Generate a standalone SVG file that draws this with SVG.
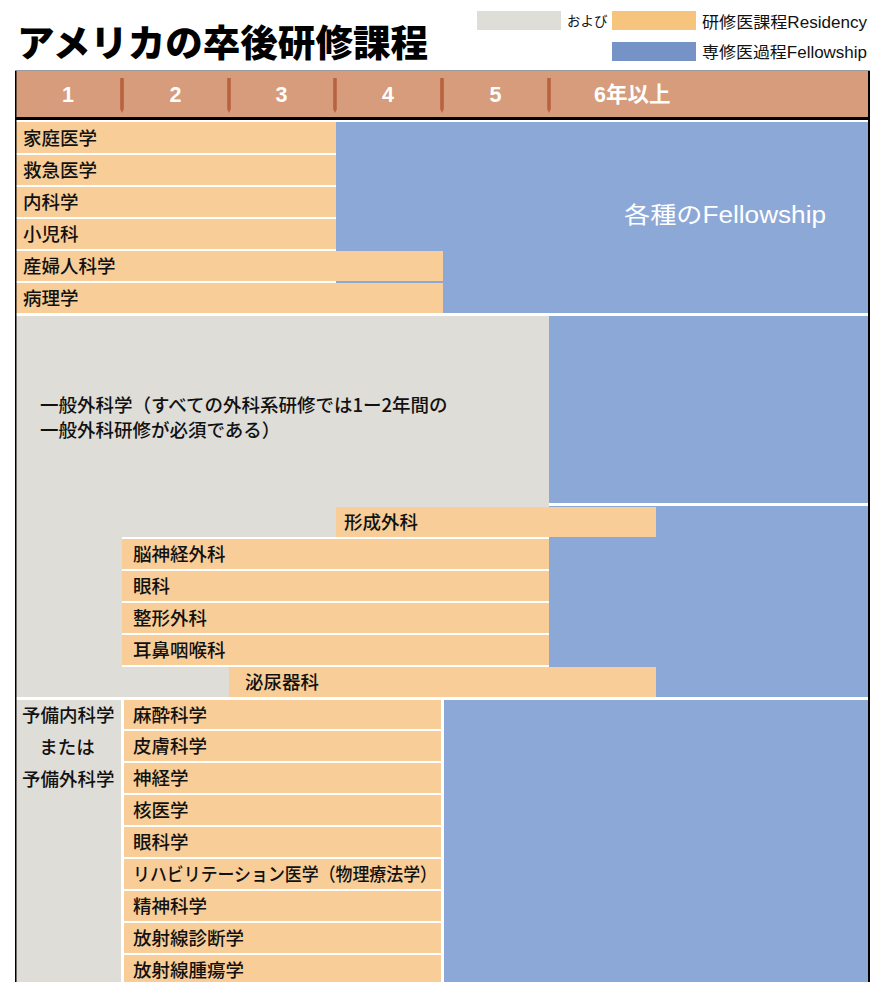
<svg xmlns="http://www.w3.org/2000/svg" width="890" height="982" viewBox="0 0 890 982">
<style>
.or{fill:#F8CD97}
.bl{fill:#8CA8D6}
.gr{fill:#DEDDD8}
.wh{fill:#FFFFFF}
.tick{fill:#B8623F}
.lbl{font-family:"Noto Sans CJK JP","Liberation Sans",sans-serif;font-size:18.5px;font-weight:500;fill:#111}
.hd{font-family:"Liberation Sans","Noto Sans CJK JP",sans-serif;font-size:21.5px;font-weight:bold;fill:#fff;text-anchor:middle}
.lg{font-family:"Liberation Sans","Noto Sans CJK JP",sans-serif;fill:#111}
</style>
<rect x="0" y="0" width="890" height="982" fill="#fff"/>

<g id="title">
<text x="17" y="57" font-family="'Noto Sans CJK JP',sans-serif" font-size="37" font-weight="900" fill="#000" textLength="411" lengthAdjust="spacingAndGlyphs">アメリカの卒後研修課程</text>
</g>

<g id="legend">
<rect x="477" y="11" width="84" height="19" fill="#DEDDD8"/>
<text class="lg" x="567" y="26" font-size="13.5">および</text>
<rect x="612" y="11" width="84" height="19" fill="#F7C47E"/>
<text class="lg" x="702" y="28" font-size="16" textLength="165" lengthAdjust="spacingAndGlyphs">研修医課程Residency</text>
<rect x="612" y="42" width="84" height="19" fill="#7593C7"/>
<text class="lg" x="702" y="58" font-size="16" textLength="165" lengthAdjust="spacingAndGlyphs">専修医過程Fellowship</text>
</g>

<g id="header">
<rect x="15" y="70" width="855" height="1.2" fill="#9a9a9a"/>
<rect x="16" y="71" width="852" height="46" fill="#D69C7B"/>
<rect x="16" y="117" width="852" height="3" fill="#000"/>
<path class="tick" d="M120.2,78h3.6v31l-1.8,4l-1.8,-4z"/>
<path class="tick" d="M227.2,78h3.6v31l-1.8,4l-1.8,-4z"/>
<path class="tick" d="M333.2,78h3.6v31l-1.8,4l-1.8,-4z"/>
<path class="tick" d="M440.2,78h3.6v31l-1.8,4l-1.8,-4z"/>
<path class="tick" d="M547.2,78h3.6v31l-1.8,4l-1.8,-4z"/>
<text class="hd" x="68" y="102">1</text>
<text class="hd" x="175.5" y="102">2</text>
<text class="hd" x="281.5" y="102">3</text>
<text class="hd" x="388" y="102">4</text>
<text class="hd" x="495.5" y="102">5</text>
<text class="hd" x="594" y="102" style="text-anchor:start">6年以上</text>
</g>

<g id="section-primary">
<rect class="bl" x="336" y="122" width="532" height="191"/>
<text x="624" y="223" font-family="'Liberation Sans','Noto Sans CJK JP',sans-serif" font-size="23" fill="#fff" textLength="202" lengthAdjust="spacingAndGlyphs">各種のFellowship</text>
<g id="row-family"><rect class="or" x="16" y="122" width="320" height="31"/><text class="lbl" x="23" y="144.5">家庭医学</text></g>
<g id="row-emergency"><rect class="or" x="16" y="155" width="320" height="30"/><text class="lbl" x="23" y="177">救急医学</text></g>
<g id="row-internal"><rect class="or" x="16" y="187" width="320" height="30"/><text class="lbl" x="23" y="209">内科学</text></g>
<g id="row-pediatrics"><rect class="or" x="16" y="219" width="320" height="30"/><text class="lbl" x="23" y="241">小児科</text></g>
<g id="row-obgyn"><rect class="or" x="16" y="251" width="427" height="30"/><text class="lbl" x="23" y="273">産婦人科学</text></g>
<g id="row-pathology"><rect class="or" x="16" y="283" width="427" height="30"/><text class="lbl" x="23" y="305">病理学</text></g>
</g>

<g id="section-surgery">
<rect class="gr" x="16" y="316" width="533" height="381"/>
<rect class="bl" x="549" y="316" width="319" height="187"/>
<rect class="bl" x="549" y="506" width="319" height="191"/>
<g id="general-surgery">
<text class="lbl" x="40" y="412" font-size="18">一般外科学（すべての外科系研修では1ー2年間の</text>
<text class="lbl" x="40" y="437" font-size="18">一般外科研修が必須である）</text>
</g>
<g id="row-plastic"><rect class="or" x="336" y="507" width="320" height="30"/><text class="lbl" x="344" y="529">形成外科</text></g>
<rect class="wh" x="122" y="537" width="427" height="2"/>
<g id="row-neuro"><rect class="or" x="122" y="539" width="427" height="30"/><text class="lbl" x="133" y="561">脳神経外科</text></g>
<rect class="wh" x="122" y="569" width="427" height="2"/>
<g id="row-ophth"><rect class="or" x="122" y="571" width="427" height="30"/><text class="lbl" x="133" y="593">眼科</text></g>
<rect class="wh" x="122" y="601" width="427" height="2"/>
<g id="row-ortho"><rect class="or" x="122" y="603" width="427" height="30"/><text class="lbl" x="133" y="625">整形外科</text></g>
<rect class="wh" x="122" y="633" width="427" height="2"/>
<g id="row-ent"><rect class="or" x="122" y="635" width="427" height="30"/><text class="lbl" x="133" y="657">耳鼻咽喉科</text></g>
<rect class="wh" x="122" y="665" width="427" height="2"/>
<g id="row-urology"><rect class="or" x="229" y="667" width="427" height="30"/><text class="lbl" x="245" y="689">泌尿器科</text></g>
</g>

<g id="section-prelim">
<rect class="gr" x="16" y="700" width="105" height="282"/>
<rect class="bl" x="444" y="700" width="424" height="282"/>
<g id="prelim-label">
<text class="lbl" x="22" y="722">予備内科学</text>
<text class="lbl" x="67" y="754" text-anchor="middle">または</text>
<text class="lbl" x="22" y="786">予備外科学</text>
</g>
<g id="row-anesth"><rect class="or" x="124" y="700" width="317" height="29"/><text class="lbl" x="133" y="722">麻酔科学</text></g>
<g id="row-derm"><rect class="or" x="124" y="731" width="317" height="30"/><text class="lbl" x="133" y="753">皮膚科学</text></g>
<g id="row-neurology"><rect class="or" x="124" y="763" width="317" height="30"/><text class="lbl" x="133" y="785">神経学</text></g>
<g id="row-nuclear"><rect class="or" x="124" y="795" width="317" height="30"/><text class="lbl" x="133" y="817">核医学</text></g>
<g id="row-ophth2"><rect class="or" x="124" y="827" width="317" height="30"/><text class="lbl" x="133" y="849">眼科学</text></g>
<g id="row-rehab"><rect class="or" x="124" y="859" width="317" height="30"/><text class="lbl" x="133" y="881" textLength="304" lengthAdjust="spacingAndGlyphs">リハビリテーション医学（物理療法学）</text></g>
<g id="row-psych"><rect class="or" x="124" y="891" width="317" height="30"/><text class="lbl" x="133" y="913">精神科学</text></g>
<g id="row-diagrad"><rect class="or" x="124" y="923" width="317" height="30"/><text class="lbl" x="133" y="945">放射線診断学</text></g>
<g id="row-radonc"><rect class="or" x="124" y="955" width="317" height="27"/><text class="lbl" x="133" y="977">放射線腫瘍学</text></g>
</g>

<g id="frame">
<rect x="15" y="71" width="1.5" height="911" fill="#000"/>
<rect x="868" y="71" width="2" height="911" fill="#000"/>
</g>
</svg>
